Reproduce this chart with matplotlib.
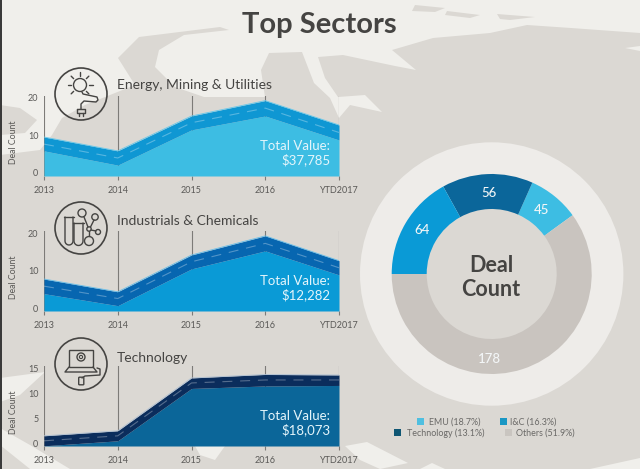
import numpy as np
import matplotlib
matplotlib.use("Agg")
import matplotlib.pyplot as plt
from matplotlib.patches import Polygon, Circle, Rectangle, FancyBboxPatch

W, H = 640, 469
plt.rcParams['font.family'] = ['Lato', 'DejaVu Sans']

years = ['2013', '2014', '2015', '2016', 'YTD2017']
emu_top = [9.6, 5.9, 15.2, 19.3, 12.8]
emu_mid = [7.7, 4.0, 13.4, 17.3, 10.8]
emu_low = [5.9, 2.1, 11.5, 15.2, 8.8]
iac_top = [7.8, 4.4, 14.2, 19.3, 12.7]
iac_mid = [5.9, 2.6, 12.4, 17.3, 10.8]
iac_low = [3.9, 0.7, 10.5, 15.3, 8.9]
tec_top = [1.5, 2.5, 13.1, 13.8, 13.7]
tec_mid = [0.5, 1.5, 12.1, 12.7, 12.7]
tec_low = [-0.5, 0.5, 11.0, 11.5, 11.6]

donut_labels = ['45', '56', '64', '178']
donut_spans = [30, 53, 61, 216]   # drawn arc of each ring segment, degrees
donut_colors = ['#3dbde3', '#0b669a', '#0a9ad6', '#c9c4bf']
legend_names = ['EMU (18.7%)', 'I&C (16.3%)', 'Technology (13.1%)', 'Others (51.9%)']
legend_colors = ['#4fbfe0', '#1a97c4', '#0f5673', '#c9c5c0']

SEA = '#f0efeb'
LAND = '#dbd8d3'
INK = '#454442'

fig = plt.figure(figsize=(W / 100, H / 100), dpi=100)


def rect(x0, y0, x1, y1):
    return [x0 / W, 1 - y1 / H, (x1 - x0) / W, (y1 - y0) / H]


bg = fig.add_axes([0, 0, 1, 1], zorder=0)
bg.set_xlim(0, W)
bg.set_ylim(H, 0)
bg.axis('off')
bg.add_patch(Rectangle((0, 0), W, H, fc=SEA, ec='none'))
land = [
    [(640, 33), (571, 28), (527, 25), (490, 33), (433, 38), (392, 50), (416, 70), (395, 66), (343, 55), (318, 57),
     (325, 78), (338, 97), (365, 95), (382, 112), (350, 105), (339, 118), (330, 98), (314, 83), (302, 52), (269, 53),
     (261, 70), (265, 97), (204, 97), (175, 87), (155, 67), (159, 50), (184, 35), (229, 30), (220, 27), (139, 37),
     (118, 58), (135, 85), (85, 105), (62, 118), (52, 135), (40, 150), (0, 155), (0, 469), (640, 469)],
    [(0, 105), (20, 108), (37, 120), (25, 133), (0, 135)],
    [(415, 5), (445, 8), (435, 12), (412, 11)],
    [(447, 11), (480, 15), (470, 18), (445, 15)],
    [(497, 14), (535, 17), (510, 20), (500, 19)],
]
for p in land:
    bg.add_patch(Polygon(p, closed=True, fc=LAND, ec='none'))
sea = [
    [(0, 378), (45, 372), (20, 395), (0, 402)],
    [(0, 428), (30, 445), (70, 469), (30, 469), (0, 445)],
    [(195, 446), (225, 446), (215, 460), (200, 455)],
    [(345, 446), (367, 442), (408, 463), (380, 469), (360, 460)],
    [(420, 469), (432, 463), (445, 469)],
    [(450, 398), (490, 405), (530, 398)],
    [(590, 469), (640, 458), (640, 469)],
    [(625, 48), (640, 46), (640, 51)],
]
for p in sea:
    bg.add_patch(Polygon(p, closed=True, fc=SEA, ec='none'))
bg.add_patch(Rectangle((0, 0), 2, H, fc='#3a3a3a', ec='none'))
bg.add_patch(Circle((491.7, 274), 131.7, fc='#eeecE9', ec='none'))
bg.add_patch(Circle((491.7, 274), 70, fc=LAND, ec='none'))


def panel(box, ylim, yticks, top, mid, low, c_band, c_low, c_edge, title, value, tx):
    ax = fig.add_axes(rect(*box), zorder=2)
    ax.patch.set_visible(False)
    x = np.arange(len(years))
    ax.set_xlim(0, 4)
    ax.set_ylim(*ylim)
    for xi in x:
        ax.axvline(xi, color='#7d7b78', lw=0.8, zorder=1)
    ax.fill_between(x, ylim[0], low, color=c_low, lw=0, zorder=2)
    ax.fill_between(x, low, top, color=c_band, lw=0, zorder=3)
    ax.plot(x, top, color=c_edge, lw=0.6, zorder=4)
    ax.plot(x, mid, color='white', alpha=0.3, lw=0.8, dashes=(9, 7), zorder=5)
    for s in ax.spines.values():
        s.set_visible(False)
    ax.set_xticks(x, years)
    ax.set_yticks(yticks)
    ax.tick_params(axis='x', length=3, width=0.8, color='#7d7b78', labelsize=6.5, labelcolor='#5a5957', pad=4)
    ax.tick_params(axis='y', length=0, labelsize=6.5, labelcolor='#5a5957', pad=4)
    ax.set_ylabel('Deal Count', fontsize=6.3, color='#5a5957')
    ax.yaxis.set_label_coords(-0.088, 0.42)
    ax.text(3.88, 0.375, 'Total Value:', transform=ax.get_xaxis_transform(), ha='right', va='center',
            fontsize=9.5, color='#e4f5fb')
    ax.text(3.88, 0.20, value, transform=ax.get_xaxis_transform(), ha='right', va='center',
            fontsize=9.5, color='#e4f5fb')
    ov.text(117, tx, title, ha='left', va='center', fontsize=10, color=INK)


ov = fig.add_axes([0, 0, 1, 1], zorder=3)
ov.set_xlim(0, W)
ov.set_ylim(H, 0)
ov.axis('off')

panel((44, 96, 339, 176), (-0.8, 20.53), [0, 10, 20], emu_top, emu_mid, emu_low,
      '#0f97d3', '#3dbde3', '#66c8ea', 'Energy, Mining & Utilities', '$37,785', 85)
panel((44, 231, 339, 311), (-0.72, 20.6), [0, 10, 20], iac_top, iac_mid, iac_low,
      '#0766b0', '#0a9ad6', '#66bde8', 'Industrials & Chemicals', '$12,282', 221)
panel((44, 366, 339, 446), (-0.54, 15.5), [0, 5, 10, 15], tec_top, tec_mid, tec_low,
      '#0b2d5c', '#0b6699', '#aebfd2', 'Technology', '$18,073', 358)

# icons
def stroke(xs, ys):
    ov.plot(xs, ys, color=INK, lw=1.0, solid_capstyle='round')

for cy in (94, 228, 364):
    ov.add_patch(Circle((81, cy), 26, fc='none', ec=INK, lw=1.2))
# bulb icon
ov.add_patch(Circle((80, 85), 6.5, fc='none', ec=INK, lw=1.0))
for a in np.deg2rad([0, 45, 90, 135, 180, 225, 315]):
    stroke([80 + 9 * np.cos(a), 80 + 12.5 * np.cos(a)], [85 - 9 * np.sin(a), 85 - 12.5 * np.sin(a)])
stroke([82, 83, 97, 98, 96, 84, 81, 81], [92, 94, 97, 100, 102, 101, 104, 109])
stroke([77, 85, 85, 77, 77], [109, 109, 113, 113, 109])
stroke([79, 79], [113, 116])
stroke([83, 83], [113, 116])
# test tube icon
for x0, x1, yt in ((65, 73, 217), (74, 83, 223)):
    cx, r = (x0 + x1) / 2, (x1 - x0) / 2
    t = np.linspace(np.pi, 0, 12)
    stroke(np.r_[x0, cx + r * np.cos(t), x1], np.r_[yt, 241 + r * np.sin(t), yt])
    stroke([x0 - 1, x1 + 1], [yt, yt])
for c, r in (((82, 213), 4.0), ((95, 217), 3.2), ((89, 241), 4.5), ((98, 232), 2.5), ((89, 229), 2.2)):
    ov.add_patch(Circle(c, r, fc='none', ec=INK, lw=1.0))
stroke([84, 88], [217, 227])
stroke([90.5, 94], [227, 220])
stroke([89, 89], [231, 236.5])
stroke([91, 96], [230, 231])
# laptop icon
ov.add_patch(Rectangle((69, 350), 24, 17, fc='none', ec=INK, lw=1.0))
ov.add_patch(Circle((81, 357), 4, fc='none', ec=INK, lw=1.0))
ov.add_patch(Circle((81, 357), 1.6, fc='none', ec=INK, lw=0.8))
stroke([69, 65, 97, 93], [367, 372, 372, 367])
stroke([97, 100, 100, 85, 82], [368, 369, 375, 376, 378])
ov.add_patch(FancyBboxPatch((79.5, 378), 3.5, 6, boxstyle='round,pad=0.8', fc='none', ec=INK, lw=1.0))

# title
ov.text(319.5, 25, 'Top Sectors', ha='center', va='center', fontsize=21, fontweight='bold', color=INK)

# donut
da = fig.add_axes(rect(391.7, 174, 591.7, 374), zorder=2)
da.pie(donut_spans, colors=donut_colors, startangle=36, radius=1,
       wedgeprops=dict(width=0.35, edgecolor='none'))
da.set_xlim(-1, 1)
da.set_ylim(-1, 1)

for s, (x, y) in zip(donut_labels, [(542, 210), (489, 193), (422, 230), (490, 359)]):
    ov.text(x, y, s, ha='center', va='center', fontsize=9.5, color='#f3f6f7', fontweight='medium')
ov.text(491, 265, 'Deal', ha='center', va='center', fontsize=15.5, fontweight='bold', color=INK)
ov.text(491, 289, 'Count', ha='center', va='center', fontsize=15.5, fontweight='bold', color=INK)

# legend
for name, col, (sx, tx, y) in zip(legend_names, legend_colors,
                                  [(420, 429, 422), (503, 510, 422), (397, 407, 433), (508, 516, 433)]):
    ov.add_patch(Rectangle((sx - 3.5, y - 3.5), 7, 7, fc=col, ec='none'))
    ov.text(tx, y + 0.5, name, ha='left', va='center', fontsize=6.4, color='#6a6967')

fig.savefig('out.png', dpi=100)
